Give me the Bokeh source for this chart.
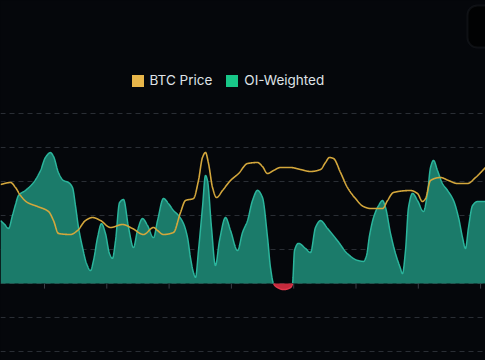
import numpy as np
from bokeh.plotting import figure
from bokeh.models import (Range1d, Grid, FixedTicker, Legend, LegendItem,
                          BoxAnnotation)
from bokeh.embed import file_html
from bokeh.resources import INLINE

# ---------------- data ----------------
# OI-weighted series: x in days, value in grid units
oi_days = [-4.94, -4.49, -4.04, -3.60, -3.26, -2.92, -2.13, -1.24, -0.45, 0.11,
           0.67, 1.01, 1.57, 2.13, 2.70, 3.15, 3.48, 3.82, 4.27, 4.72,
           5.17, 5.51, 5.96, 6.40, 6.85, 7.30, 7.64, 7.98, 8.43, 8.88,
           9.44, 10.00, 10.45, 11.01, 11.57, 12.25, 12.70, 13.37, 13.93, 14.49,
           15.06, 15.62, 16.07, 16.40, 16.74, 16.97, 17.30, 17.75, 18.09, 18.31,
           18.76, 19.21, 19.66, 20.34, 20.90, 21.69, 22.25, 22.81, 23.37, 23.93,
           24.49, 25.06, 25.39, 25.73, 26.18, 26.85, 27.64, 27.87, 28.09, 28.54,
           29.33, 29.89, 30.45, 31.01, 31.80, 32.92, 34.04, 35.17, 35.84, 36.18,
           36.52, 36.97, 37.53, 37.98, 38.31, 38.88, 39.44, 40.00, 40.22, 40.56,
           40.90, 41.35, 41.91, 42.58, 43.03, 43.37, 43.71, 44.16, 44.72, 45.28,
           45.96, 46.52, 46.97, 47.30, 47.64, 48.09, 48.65, 49.55]
oi_values = [1.85, 1.74, 1.62, 2.00, 2.32, 2.59, 2.74, 2.97, 3.32, 3.71,
             3.85, 3.74, 3.26, 3.03, 2.97, 2.82, 2.29, 1.65, 1.06, 0.59,
             0.38, 0.68, 1.35, 1.76, 1.47, 0.88, 0.74, 1.26, 2.38, 2.47,
             1.65, 1.06, 1.56, 1.91, 1.71, 1.35, 1.85, 2.50, 2.35, 2.15,
             2.00, 1.76, 1.35, 0.76, 0.32, 0.18, 0.97, 2.24, 3.18, 3.03,
             1.65, 0.53, 1.26, 1.94, 1.56, 0.97, 1.50, 1.85, 2.44, 2.74,
             2.53, 1.35, 0.47, 0.00, -0.12, -0.18, -0.12, 0.00, 0.97, 1.18,
             1.03, 0.91, 1.65, 1.85, 1.62, 1.26, 0.88, 0.68, 0.65, 0.82,
             1.41, 1.94, 2.29, 2.44, 2.24, 1.47, 0.88, 0.44, 0.29, 0.97,
             2.24, 2.65, 2.44, 2.12, 2.65, 3.41, 3.62, 3.32, 2.94, 2.74,
             2.44, 1.94, 1.35, 1.03, 1.65, 2.29, 2.41, 2.41]

# BTC price series: x in days, price in $k
price_days = [-4.94, -3.82, -3.26, -2.70, -1.91, -0.79, 0.45, 1.01, 1.57, 2.92,
              3.71, 4.61, 5.39, 6.29, 7.42, 8.76, 9.89, 11.12, 12.25, 12.70,
              13.37, 14.49, 15.28, 15.84, 16.74, 17.30, 17.75, 18.09, 18.43, 18.88,
              19.33, 20.00, 20.90, 21.80, 22.81, 23.93, 24.49, 25.06, 25.73, 26.52,
              27.64, 28.76, 29.89, 31.01, 31.57, 32.02, 32.47, 33.26, 34.04, 34.94,
              35.84, 36.63, 37.98, 38.54, 39.21, 41.12, 41.91, 42.47, 42.81, 43.37,
              44.49, 45.39, 46.40, 47.53, 48.43, 49.55]
price_values = [116.6, 116.8, 116.3, 115.5, 114.8, 114.4, 113.9, 113.0, 111.7, 111.6,
                112.0, 113.0, 113.3, 113.0, 112.3, 112.6, 112.2, 111.6, 112.3, 112.0,
                111.6, 111.8, 113.8, 115.0, 115.2, 117.0, 119.3, 119.8, 118.7, 116.3,
                115.3, 116.0, 117.0, 117.7, 118.7, 118.8, 118.4, 117.7, 118.0, 118.3,
                118.3, 118.1, 117.9, 118.1, 118.8, 119.3, 119.2, 117.8, 116.3, 115.2,
                114.4, 114.2, 114.2, 115.0, 115.8, 116.0, 115.7, 114.9, 115.2, 117.0,
                117.3, 117.0, 116.7, 116.7, 117.3, 118.3]

tick_days = [0, 7, 14, 21, 28, 35, 42, 49]
grid_levels = [-2, -1, 0, 1, 2, 3, 4, 5]
series_names = ["BTC Price", "OI-Weighted"]

BG = "#05070b"


def monotone(xs, ys, n=2400):
    """Monotone cubic (Fritsch-Carlson) curve for drawing smooth lines."""
    xs = np.asarray(xs, float)
    ys = np.asarray(ys, float)
    h = np.diff(xs)
    d = np.diff(ys) / h
    m = np.zeros_like(ys)
    m[0], m[-1] = d[0], d[-1]
    for k in range(1, len(xs) - 1):
        if d[k - 1] * d[k] <= 0:
            m[k] = 0.0
        else:
            w1 = 2 * h[k] + h[k - 1]
            w2 = h[k] + 2 * h[k - 1]
            m[k] = (w1 + w2) / (w1 / d[k - 1] + w2 / d[k])
    xx = np.linspace(xs[0], xs[-1], n)
    i = np.clip(np.searchsorted(xs, xx) - 1, 0, len(xs) - 2)
    hh = h[i]
    t = (xx - xs[i]) / hh
    h00 = 2 * t**3 - 3 * t**2 + 1
    h10 = t**3 - 2 * t**2 + t
    h01 = -2 * t**3 + 3 * t**2
    h11 = t**3 - t**2
    yy = h00 * ys[i] + h10 * hh * m[i] + h01 * ys[i + 1] + h11 * hh * m[i + 1]
    return xx, yy


p = figure(width=485, height=360, output_backend="svg", toolbar_location=None,
           x_range=Range1d(-4.944, 49.55), y_range=Range1d(-2.2647, 8.3235),
           x_axis_type=None, y_axis_type=None, min_border=0,
           background_fill_color=BG, border_fill_color=BG,
           outline_line_color=None)
p.extra_y_ranges = {"price": Range1d(99, 135)}

grid = Grid(dimension=1, ticker=FixedTicker(ticks=grid_levels),
            grid_line_color="#2a2e35", grid_line_dash="5 4", grid_line_width=1)
p.add_layout(grid)

# OI area
ox, oy = monotone(oi_days, oi_values)
pos = np.maximum(oy, 0)
neg = np.minimum(oy, 0)
p.varea(x=ox, y1=0, y2=pos, fill_color="#1b7b6a", fill_alpha=1)
p.varea(x=ox, y1=0, y2=neg, fill_color="#c42a3c", fill_alpha=1)
pos_line = np.where(oy >= 0, oy, np.nan)
neg_line = np.where(oy <= 0, oy, np.nan)
p.line(ox, pos_line, line_color="#2bb59c", line_width=1.5)
p.line(ox, neg_line, line_color="#e0384c", line_width=1.5)

# small ticks on the zero line
p.segment(x0=tick_days, y0=0, x1=tick_days, y1=-0.15,
          line_color="#3a3f47", line_width=1)

# BTC price line
px_, py_ = monotone(price_days, price_values)
p.line(px_, py_, line_color="#d4a73c", line_width=1.6, y_range_name="price")

# legend (swatch-only renderers with no drawable geometry)
nan = [float("nan")]
r_btc = p.quad(left=nan, right=nan, top=nan, bottom=nan,
               fill_color="#e8b64a", line_color=None)
r_oi = p.quad(left=nan, right=nan, top=nan, bottom=nan,
              fill_color="#18c788", line_color=None)
legend = Legend(items=[LegendItem(label=series_names[0], renderers=[r_btc]),
                       LegendItem(label=series_names[1], renderers=[r_oi])],
                orientation="horizontal", location=(129.5, 272),
                glyph_width=15, glyph_height=15, label_standoff=5, spacing=12,
                padding=0, margin=0, border_line_color=None,
                background_fill_alpha=0, label_text_color="#dfe2e6",
                label_text_font="Inter", label_text_font_size="13.5px")
p.add_layout(legend)

# partially visible button at the top right
p.add_layout(BoxAnnotation(left=47.53, right=53, top=8.18, bottom=6.94,
                           fill_color="#010203", fill_alpha=1,
                           line_color="#2b2f36", line_width=2,
                           border_radius=10, level="overlay"))

template = """
{% block postamble %}
<style>html, body { margin: 0; padding: 0; background: #05070b; overflow: hidden; }</style>
{% endblock %}
"""
open("out.html", "w").write(file_html(p, INLINE, template=template))
